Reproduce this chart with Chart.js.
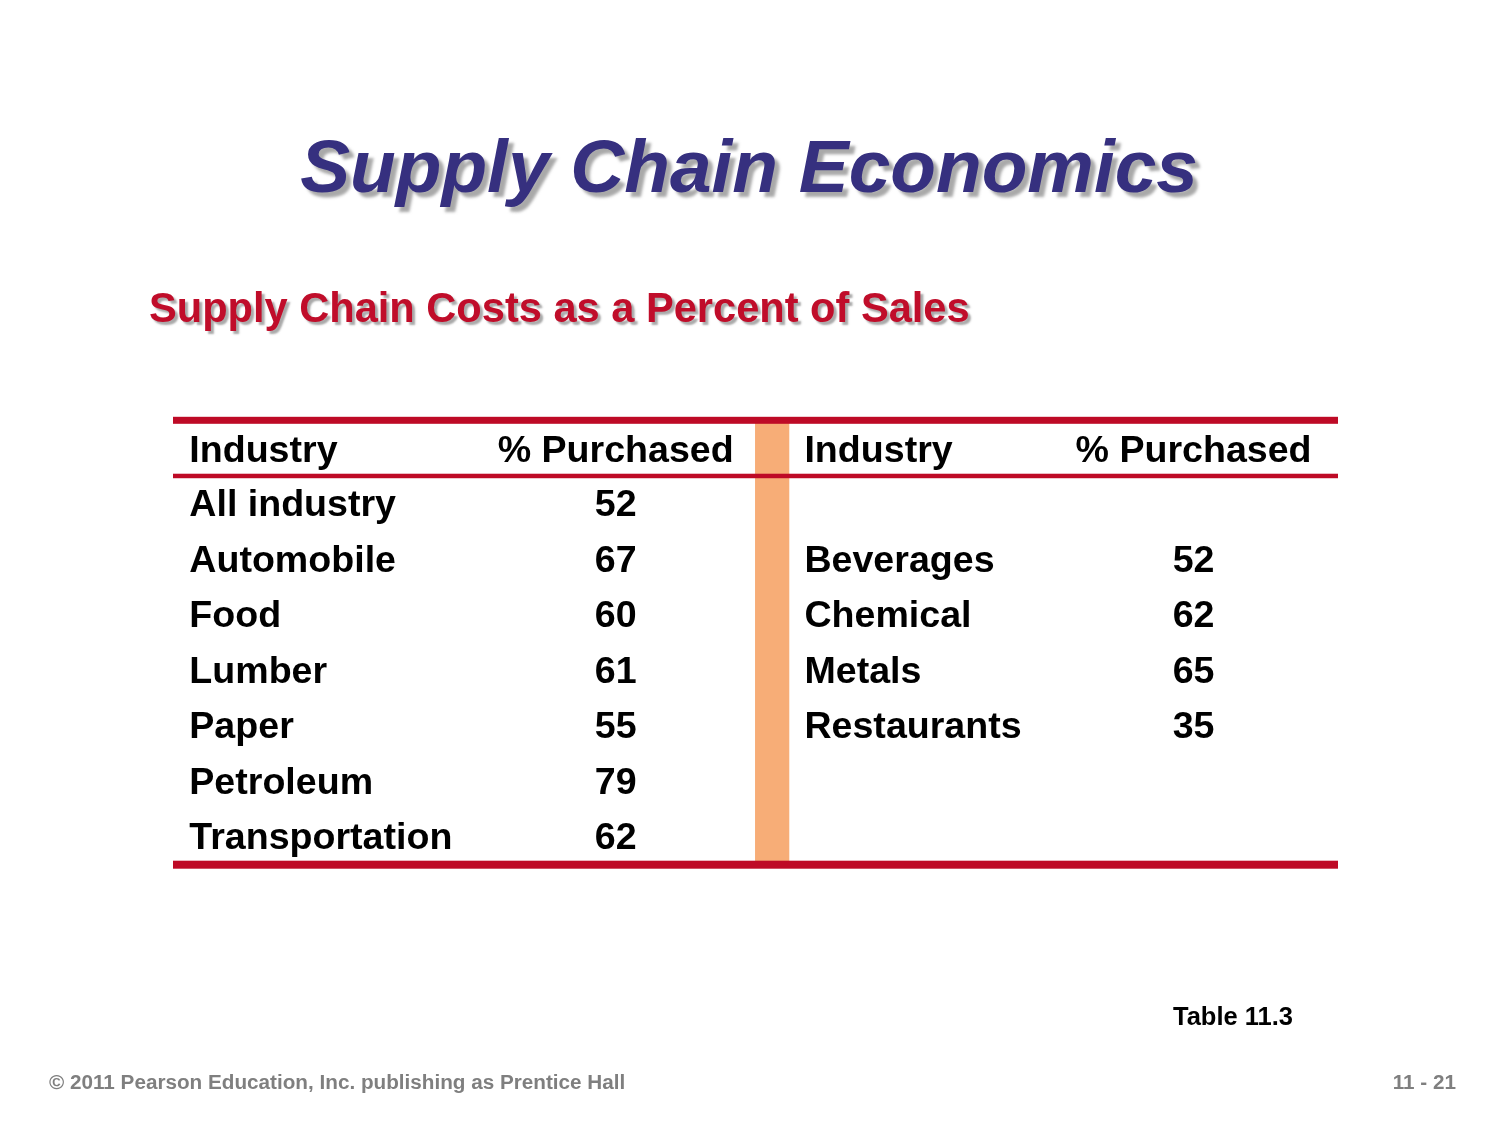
<!DOCTYPE html>
<html>
<head>
<meta charset="utf-8">
<script src="https://cdn.jsdelivr.net/npm/chart.js@4/dist/chart.umd.min.js"></script>
<style>
html,body{margin:0;padding:0;background:#fff;}
canvas{display:block;}
</style>
</head>
<body>
<canvas id="c" width="1500" height="1125"></canvas>
<script>
const titleText = 'Supply Chain Economics';
const subtitleText = 'Supply Chain Costs as a Percent of Sales';
const headers = ['Industry', '% Purchased', 'Industry', '% Purchased'];
const leftIndustries = ['All industry', 'Automobile', 'Food', 'Lumber', 'Paper', 'Petroleum', 'Transportation'];
const leftValues = [52, 67, 60, 61, 55, 79, 62];
const rightIndustries = ['', 'Beverages', 'Chemical', 'Metals', 'Restaurants', '', ''];
const rightValues = [null, 52, 62, 65, 35, null, null];
const rowKeys = ['header', 'r1', 'r2', 'r3', 'r4', 'r5', 'r6', 'r7'];
const tableNote = 'Table 11.3';
const footerLeft = '\u00A9 2011 Pearson Education, Inc. publishing as Prentice Hall';
const footerRight = '11 - 21';

// column positions on the x scale (0..100 across table width)
const COL = { leftName: 1.4, leftVal: 38.0, bandStart: 49.96, bandEnd: 52.9, rightName: 54.2, rightVal: 87.6 };
const RED = '#BE0A26';
const ORANGE = '#F7AD77';
const FONT = '"Liberation Sans", Arial, sans-serif';

function pts(values, xKey) {
  const out = [];
  values.forEach((v, i) => { if (v !== null && v !== '') out.push({ x: COL[xKey], y: rowKeys[i + 1], t: String(v) }); });
  return out;
}

const tablePlugin = {
  id: 'tablePlugin',
  beforeDatasetsDraw(chart) {
    const ctx = chart.ctx, xs = chart.scales.x, ys = chart.scales.y, ca = chart.chartArea;
    ctx.save();
    const b0 = xs.getPixelForValue(COL.bandStart), b1 = xs.getPixelForValue(COL.bandEnd);
    ctx.fillStyle = ORANGE;
    ctx.fillRect(b0, ca.top, b1 - b0, ca.bottom - ca.top);
    ctx.fillStyle = RED;
    ctx.fillRect(ca.left, ca.top - 3.5, ca.right - ca.left, 7);
    const hb = (ys.getPixelForValue(0) + ys.getPixelForValue(1)) / 2;
    ctx.fillRect(ca.left, hb - 2, ca.right - ca.left, 4.5);
    ctx.fillRect(ca.left, ca.bottom - 3, ca.right - ca.left, 8);
    ctx.restore();
  },
  afterDatasetsDraw(chart) {
    const ctx = chart.ctx, xs = chart.scales.x, ys = chart.scales.y;
    ctx.save();
    ctx.fillStyle = '#000';
    ctx.font = 'bold 37.6px ' + FONT;
    ctx.textBaseline = 'alphabetic';
    const hy = ys.getPixelForValue(0) + 13.5;
    ctx.textAlign = 'left';
    ctx.fillText(headers[0], xs.getPixelForValue(COL.leftName), hy);
    ctx.fillText(headers[2], xs.getPixelForValue(COL.rightName), hy);
    ctx.textAlign = 'center';
    ctx.fillText(headers[1], xs.getPixelForValue(COL.leftVal), hy);
    ctx.fillText(headers[3], xs.getPixelForValue(COL.rightVal), hy);
    ctx.textAlign = 'left';
    leftIndustries.forEach((n, i) => { ctx.fillText(n, xs.getPixelForValue(COL.leftName), ys.getPixelForValue(i + 1) + 13); });
    rightIndustries.forEach((n, i) => { if (n) ctx.fillText(n, xs.getPixelForValue(COL.rightName), ys.getPixelForValue(i + 1) + 13); });
    ctx.textAlign = 'center';
    chart.data.datasets.forEach((ds, di) => {
      const meta = chart.getDatasetMeta(di);
      meta.data.forEach((el, i) => { ctx.fillText(ds.data[i].t, el.x, el.y + 13); });
    });
    ctx.restore();

    ctx.save();
    ctx.textBaseline = 'alphabetic';
    ctx.font = 'italic bold 74.8px ' + FONT;
    ctx.textAlign = 'center';
    ctx.shadowColor = 'rgba(140,140,140,0.75)';
    ctx.shadowOffsetX = 5; ctx.shadowOffsetY = 5; ctx.shadowBlur = 3;
    ctx.fillStyle = '#36307F';
    ctx.fillText(titleText, 749, 192);
    ctx.font = 'bold 41.6px ' + FONT;
    ctx.textAlign = 'left';
    ctx.shadowOffsetX = 3; ctx.shadowOffsetY = 3; ctx.shadowBlur = 2;
    ctx.fillStyle = '#C00D2A';
    ctx.fillText(subtitleText, 149, 322);
    ctx.restore();

    ctx.save();
    ctx.textBaseline = 'alphabetic';
    ctx.fillStyle = '#000';
    ctx.font = 'bold 25.5px ' + FONT;
    ctx.textAlign = 'left';
    ctx.fillText(tableNote, 1173, 1025);
    ctx.fillStyle = '#7F7F7F';
    ctx.font = 'bold 20.7px ' + FONT;
    ctx.fillText(footerLeft, 49, 1089);
    ctx.textAlign = 'right';
    ctx.fillText(footerRight, 1456, 1089);
    ctx.restore();
  }
};

new Chart(document.getElementById('c'), {
  type: 'scatter',
  data: {
    datasets: [
      { label: 'left', data: pts(leftValues, 'leftVal'), pointRadius: 0, showLine: false },
      { label: 'right', data: pts(rightValues, 'rightVal'), pointRadius: 0, showLine: false }
    ]
  },
  options: {
    responsive: false,
    animation: false,
    events: [],
    layout: { padding: { left: 173, right: 162, top: 420.3, bottom: 261.3 } },
    plugins: { legend: { display: false }, tooltip: { enabled: false }, title: { display: false } },
    scales: {
      x: { type: 'linear', min: 0, max: 100, display: false },
      y: { type: 'category', labels: rowKeys, offset: true, display: false }
    }
  },
  plugins: [tablePlugin]
});
</script>
</body>
</html>
